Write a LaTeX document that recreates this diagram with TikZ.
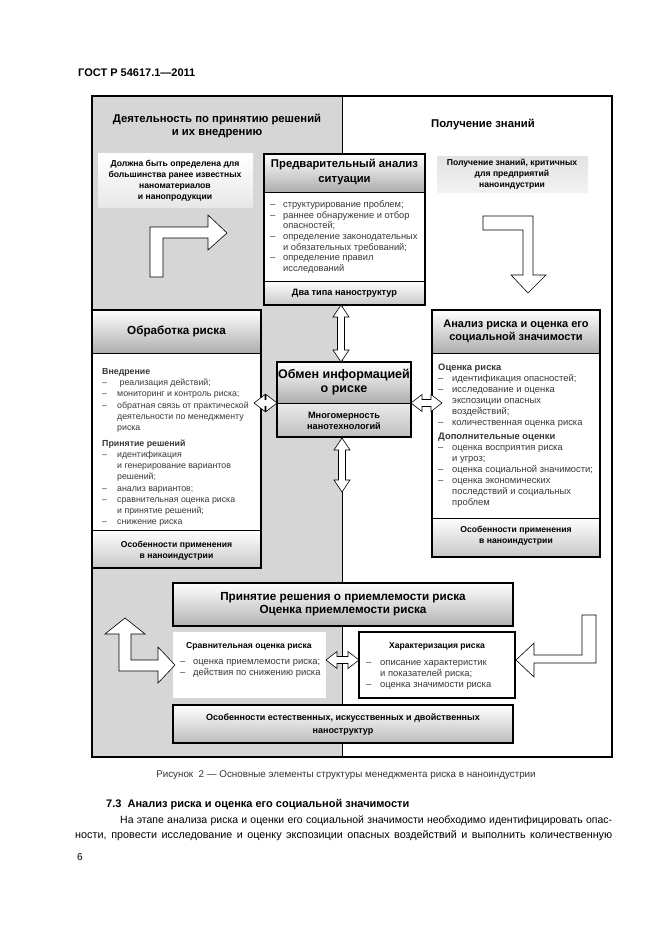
\documentclass[tikz,border=0pt]{standalone}
\usepackage{fontspec}
\setmainfont{Liberation Sans}
\usepackage{array}
\definecolor{panel}{gray}{0.84}
\definecolor{hdrgray}{gray}{0.68}
\definecolor{lsttxt}{gray}{0.22}
\newcommand{\lfa}{\fontsize{9.3}{10.7}\selectfont}
\newcommand{\lfb}{\fontsize{8.8}{11.2}\selectfont}
\newcommand{\lfc}{\fontsize{9.4}{11}\selectfont}
\newcommand{\vdarr}[3]{%
 \draw[barrow] (#1,#2) -- ({#1+8},{#2+12}) -- ({#1+3.5},{#2+12}) -- ({#1+3.5},{#3-12}) -- ({#1+8},{#3-12}) -- (#1,#3) -- ({#1-8},{#3-12}) -- ({#1-3.5},{#3-12}) -- ({#1-3.5},{#2+12}) -- ({#1-8},{#2+12}) -- cycle;}
\newcommand{\hdarr}[3]{%
 \draw[barrow] (#2,#1) -- ({#2+11},{#1-8.5}) -- ({#2+11},{#1-3.5}) -- ({#3-11},{#1-3.5}) -- ({#3-11},{#1-8.5}) -- (#3,#1) -- ({#3-11},{#1+8.5}) -- ({#3-11},{#1+3.5}) -- ({#2+11},{#1+3.5}) -- ({#2+11},{#1+8.5}) -- cycle;}
\begin{document}
\begin{tikzpicture}[x=1pt,y=-1pt,
  barrow/.style={draw=black,fill=white,line width=0.6pt,line join=miter},
  boxframe/.style={draw=black,line width=1.3pt},
  hdr/.style={top color=white,bottom color=hdrgray},
  ftr/.style={top color=white,bottom color=black!22},
  ttl/.style={font=\fontsize{11.7}{13.5}\selectfont\bfseries,align=center,inner sep=0},
  sub/.style={font=\fontsize{8.6}{11}\selectfont\bfseries,align=center,inner sep=0},
  lst/.style={anchor=base west,inner sep=0,text=lsttxt}]
\useasboundingbox[fill=white] (0,0) rectangle (661,936);

% page header
\node[anchor=west,inner sep=0,font=\fontsize{11}{13}\selectfont\bfseries] (gost) at (78,73) {ГОСТ Р 54617.1—2011};

% panels
\fill[panel] (92,96) rectangle (342,757);
\draw[line width=1pt] (342,96) -- (342,757);
\draw[line width=1.5pt] (92,96) rectangle (612,757);

\node[ttl,font=\fontsize{11.3}{13.5}\selectfont\bfseries] (lefttitle) at (217,126) {Деятельность по принятию решений\\и их внедрению};
\node[ttl,font=\fontsize{11.3}{13.5}\selectfont\bfseries] (righttitle) at (483,124) {Получение знаний};

% light boxes at the top
\shade[top color=white,bottom color=black!9] (98,154) rectangle (253,207);
\node[sub] (lefthint) at (175,181) {Должна быть определена для\\большинства ранее известных\\наноматериалов\\и нанопродукции};
\shade[top color=black!11,bottom color=black!5] (437,157) rectangle (588,192);
\node[sub] (righthint) at (512,174.5) {Получение знаний, критичных\\для предприятий\\наноиндустрии};

% bent arrows at the top
\draw[barrow] (150,277) -- (150,227) -- (208,227) -- (208,215) -- (227,233) -- (208,250) -- (208,238) -- (163,238) -- (163,277) -- cycle;
\draw[barrow] (483,216) -- (533,216) -- (533,275) -- (546,275) -- (528,293) -- (511,275) -- (523,275) -- (523,230) -- (483,230) -- cycle;

% Предварительный анализ ситуации
\fill[white] (264,154) rectangle (425,305);
\shade[hdr] (264,154) rectangle (425,192);
\shade[ftr] (264,281) rectangle (425,305);
\draw[line width=1pt] (264,192) -- (425,192) (264,281) -- (425,281);
\draw[boxframe] (264,154) rectangle (425,305);
\node[ttl,font=\fontsize{11.3}{15}\selectfont\bfseries] (prelim) at (344.5,172) {Предварительный анализ\\ситуации};
\node[lst,font=\lfa] (prelimlist) at (270,207.5) {\begin{tabular}[t]{@{}p{13pt}@{}l@{}}
– & структурирование проблем;\\
– & раннее обнаружение и отбор\\
  & опасностей;\\
– & определение законодательных\\
  & и обязательных требований;\\
– & определение правил\\
  & исследований
\end{tabular}};
\node[sub,font=\fontsize{9.2}{11}\selectfont\bfseries] (twotypes) at (344.5,293.5) {Два типа наноструктур};

% Обработка риска
\fill[white] (92,310) rectangle (261,568);
\shade[hdr] (92,310) rectangle (261,353);
\shade[ftr] (92,530) rectangle (261,568);
\draw[line width=1pt] (92,353) -- (261,353) (92,530) -- (261,530);
\draw[boxframe] (92,310) rectangle (261,568);
\node[ttl] (treat) at (176.5,331) {Обработка риска};
\node[lst,font=\lfb] (treatlist) at (102,374.5) {\begin{tabular}[t]{@{}p{15pt}@{}l@{}}
\multicolumn{2}{@{}l@{}}{\bfseries Внедрение}\\
– & \ реализация действий;\\
– & мониторинг и контроль риска;\\
– & обратная связь от практической\\
  & деятельности по менеджменту\\
  & риска\\[4.5pt]
\multicolumn{2}{@{}l@{}}{\bfseries Принятие решений}\\
– & идентификация\\
  & и генерирование вариантов\\
  & решений;\\
– & анализ вариантов;\\
– & сравнительная оценка риска\\
  & и принятие решений;\\
– & снижение риска
\end{tabular}};
\node[sub] (treatfoot) at (176.5,550.5) {Особенности применения\\в наноиндустрии};

% Анализ риска и оценка его социальной значимости
\fill[white] (432,310) rectangle (600,557);
\shade[hdr] (432,310) rectangle (600,353);
\shade[ftr] (432,518) rectangle (600,557);
\draw[line width=1pt] (432,353) -- (600,353) (432,518) -- (600,518);
\draw[boxframe] (432,310) rectangle (600,557);
\node[ttl,font=\fontsize{11}{13.5}\selectfont\bfseries] (analysis) at (516,331.5) {Анализ риска и оценка его\\социальной значимости};
\node[lst,font=\lfc] (analysislist) at (438,370.5) {\begin{tabular}[t]{@{}p{14pt}@{}l@{}}
\multicolumn{2}{@{}l@{}}{\bfseries Оценка риска}\\
– & идентификация опасностей;\\
– & исследование и оценка\\
  & экспозиции опасных\\
  & воздействий;\\
– & количественная оценка риска\\[3pt]
\multicolumn{2}{@{}l@{}}{\bfseries Дополнительные оценки}\\
– & оценка восприятия риска\\
  & и угроз;\\
– & оценка социальной значимости;\\
– & оценка экономических\\
  & последствий и социальных\\
  & проблем
\end{tabular}};
\node[sub] (analysisfoot) at (516,536) {Особенности применения\\в наноиндустрии};

% Обмен информацией о риске
\shade[hdr] (277,362) rectangle (411,403);
\shade[top color=black!8,bottom color=black!25] (277,403) rectangle (411,437);
\draw[line width=1pt] (277,403) -- (411,403);
\draw[boxframe] (277,362) rectangle (411,437);
\node[ttl,font=\fontsize{12.5}{14}\selectfont\bfseries] (exchange) at (344,382) {Обмен информацией\\о риске};
\node[sub,font=\fontsize{9.2}{11}\selectfont\bfseries] (multidim) at (344,421) {Многомерность\\нанотехнологий};

% connectors around the centre
\vdarr{341}{305}{362}
\vdarr{342}{438}{492}
\hdarr{403}{254}{277}
\hdarr{403}{411}{442}

% Принятие решения о приемлемости риска
\shade[top color=white,bottom color=black!30] (173,583) rectangle (513,626);
\draw[boxframe] (173,583) rectangle (513,626);
\node[ttl] (accept) at (343,604) {Принятие решения о приемлемости риска\\Оценка приемлемости риска};

% Сравнительная оценка риска
\fill[white] (173,632) rectangle (326,698);
\node[sub,font=\fontsize{8.6}{10}\selectfont\bfseries] (compare) at (249,646) {Сравнительная оценка риска};
\node[lst,font=\lfc] (comparelist) at (180,664.5) {\begin{tabular}[t]{@{}p{13pt}@{}l@{}}
– & оценка приемлемости риска;\\
– & действия по снижению риска
\end{tabular}};

% Характеризация риска
\fill[white] (359,632) rectangle (515,698);
\draw[line width=1.2pt] (359,632) rectangle (515,698);
\node[sub,font=\fontsize{8.6}{10}\selectfont\bfseries] (charact) at (437,646) {Характеризация риска};
\node[lst,font=\lfc] (charactlist) at (366,665) {\begin{tabular}[t]{@{}p{14pt}@{}l@{}}
– & описание характеристик\\
  & и показателей риска;\\
– & оценка значимости риска
\end{tabular}};

\hdarr{660}{326}{359}

% bent arrows at the bottom
\draw[barrow] (125,618) -- (145,634) -- (131,634) -- (131,660) -- (158,660) -- (158,647) -- (175,665) -- (158,683) -- (158,671) -- (119,671) -- (119,634) -- (105,634) -- cycle;
\draw[barrow] (582,615) -- (596,615) -- (596,663) -- (534,663) -- (534,677) -- (516,660) -- (534,643) -- (534,655) -- (582,655) -- cycle;

% Особенности естественных ...
\shade[top color=white,bottom color=black!26] (173,705) rectangle (513,743);
\draw[boxframe] (173,705) rectangle (513,743);
\node[sub,font=\fontsize{9}{12.5}\selectfont\bfseries] (features) at (343,724.5) {Особенности естественных, искусственных и двойственных\\наноструктур};

% caption and text below
\node[inner sep=0,font=\fontsize{9.8}{11}\selectfont,text=black!80] (caption) at (346,775) {Рисунок\ \ 2 — Основные элементы структуры менеджмента риска в наноиндустрии};
\node[anchor=west,inner sep=0,font=\fontsize{11}{13}\selectfont\bfseries] (section) at (106,805) {7.3\ \ Анализ риска и оценка его социальной значимости};
\node[anchor=west,inner sep=0,font=\fontsize{10.5}{13}\selectfont] (para1) at (120,821) {\makebox[492pt][s]{На этапе анализа риска и оценки его социальной значимости необходимо идентифицировать опас-}};
\node[anchor=west,inner sep=0,font=\fontsize{10.8}{13}\selectfont] (para2) at (75,836) {\makebox[537pt][s]{ности, провести исследование и оценку экспозиции опасных воздействий и выполнить количественную}};
\node[anchor=west,inner sep=0,font=\fontsize{10}{12}\selectfont] (pagenum) at (77,857) {6};
\end{tikzpicture}
\end{document}
